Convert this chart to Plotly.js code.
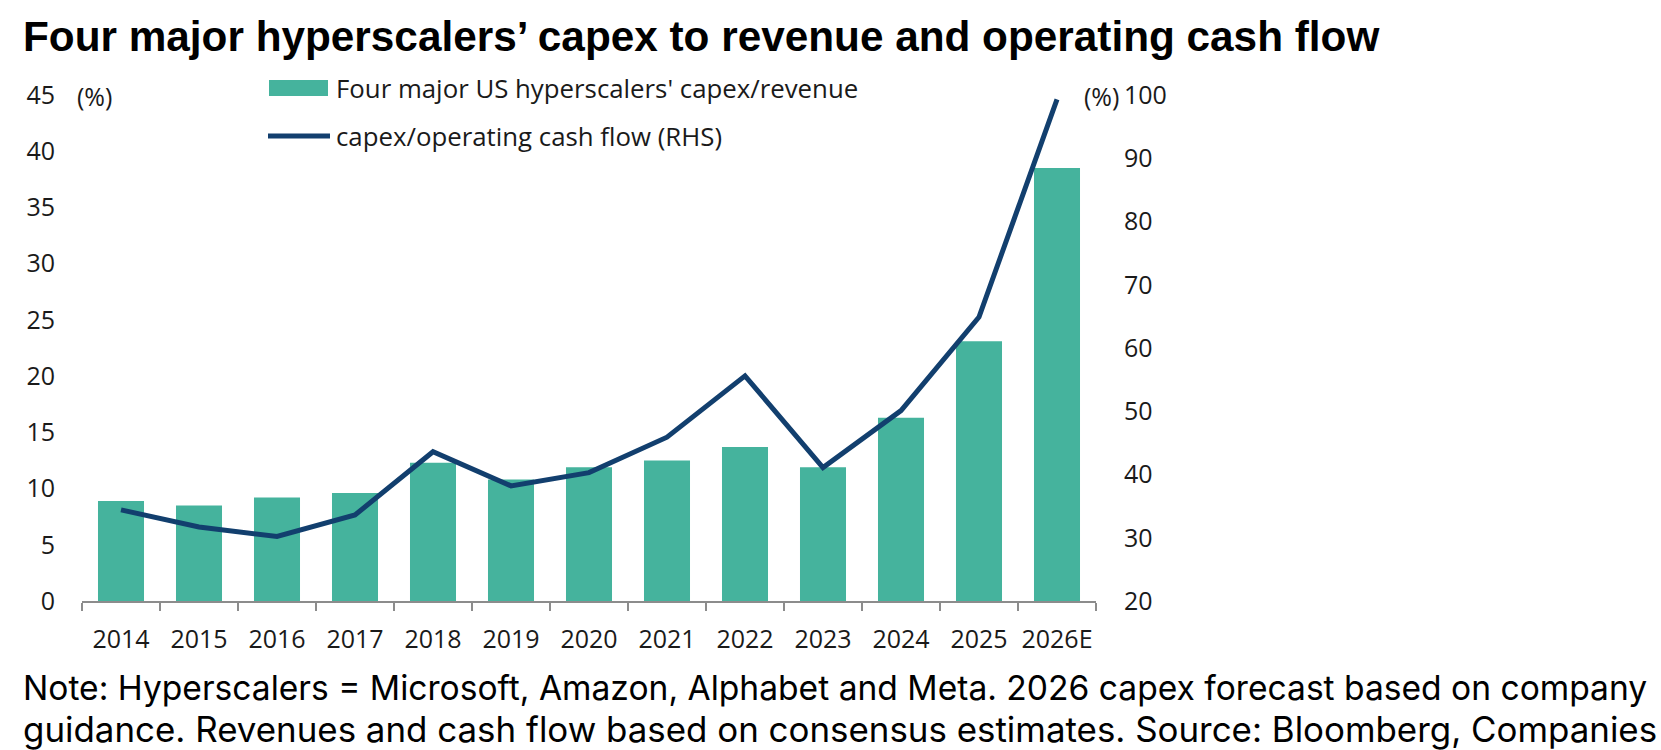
<!DOCTYPE html>
<html>
<head>
<meta charset="utf-8">
<script src="https://cdn.plot.ly/plotly-3.0.1.min.js"></script>
<style>
html,body{margin:0;padding:0;background:#fff;}
#chart{width:1661px;height:750px;}
</style>
</head>
<body>
<div id="chart"></div>
<script>
// ---- data ----
var years = ["2014","2015","2016","2017","2018","2019","2020","2021","2022","2023","2024","2025","2026E"];
var capexToRevenue = [8.9, 8.5, 9.2, 9.6, 12.3, 10.8, 11.9, 12.5, 13.7, 11.9, 16.3, 23.1, 38.5];
var capexToOCF = [34.4, 31.7, 30.2, 33.6, 43.6, 38.2, 40.3, 45.9, 55.6, 41.1, 50.1, 64.9, 99.3];
var leftTicks = [0, 5, 10, 15, 20, 25, 30, 35, 40, 45];
var rightTicks = [20, 30, 40, 50, 60, 70, 80, 90, 100];
var barName = "Four major US hyperscalers' capex/revenue";
var lineName = "capex/operating cash flow (RHS)";
var titleText = "Four major hyperscalers’ capex to revenue and operating cash flow";
var noteLine1 = "Note: Hyperscalers = Microsoft, Amazon, Alphabet and Meta. 2026 capex forecast based on company";
var noteLine2 = "guidance. Revenues and cash flow based on consensus estimates. Source: Bloomberg, Companies";

// ---- styling ----
var W = 1661, H = 750;
var L = 82, R = 1096, T = 95, B = 601;
var barColor = "#45b39d";
var lineColor = "#123f6e";
var tickFont = {family: "Open Sans, Liberation Sans, sans-serif", size: 25, color: "#1a1a1a"};
var legendFont = {family: "Open Sans, Liberation Sans, sans-serif", size: 25.8, color: "#1a1a1a"};
var noteFont1 = {family: "Inter, Liberation Sans, sans-serif", size: 33.6, color: "#000"};
var noteFont2 = {family: "Inter, Liberation Sans, sans-serif", size: 34.9, color: "#000"};
function px(x){ return (x - L) / (R - L); }
function py(y){ return (B - y) / (B - T); }

var traces = [
  {type: "bar", x: years, y: capexToRevenue, name: barName, marker: {color: barColor}, yaxis: "y", hoverinfo: "x+y"},
  {type: "scatter", mode: "lines", x: years, y: capexToOCF, name: lineName, yaxis: "y2",
   line: {color: lineColor, width: 5}, cliponaxis: false}
];

var layout = {
  width: W, height: H,
  margin: {l: L, r: W - R, t: T, b: H - B, pad: 0},
  paper_bgcolor: "#fff", plot_bgcolor: "#fff",
  showlegend: false,
  bargap: 0.41,
  xaxis: {
    type: "category", range: [-0.5, years.length - 0.5],
    showline: true, linecolor: "#8c8c8c", linewidth: 2,
    ticks: "outside", tickson: "boundaries", ticklen: 8, tickwidth: 2, tickcolor: "#8c8c8c",
    tickfont: tickFont, tickangle: 0, ticklabelstandoff: 15, showgrid: false, zeroline: false
  },
  yaxis: {
    range: [0, 45], tickvals: leftTicks, ticktext: leftTicks.map(String),
    showgrid: false, zeroline: false, showline: false, ticks: "",
    tickfont: tickFont, ticklabelstandoff: 26
  },
  yaxis2: {
    overlaying: "y", side: "right", range: [20, 100], tickvals: rightTicks, ticktext: rightTicks.map(String),
    showgrid: false, zeroline: false, showline: false, ticks: "",
    tickfont: tickFont, ticklabelstandoff: 27
  },
  shapes: [
    {type: "rect", xref: "paper", yref: "paper", x0: px(269), x1: px(328), y0: py(96), y1: py(80),
     fillcolor: barColor, line: {width: 0}},
    {type: "line", xref: "paper", yref: "paper", x0: px(268), x1: px(330), y0: py(136), y1: py(136),
     line: {color: lineColor, width: 5}}
  ],
  annotations: [
    {text: "<b>" + titleText + "</b>", xref: "paper", yref: "paper", x: px(21), y: py(36),
     xanchor: "left", yanchor: "middle", showarrow: false,
     font: {family: "Liberation Sans, Arial, sans-serif", size: 42.3, color: "#000"}},
    {text: "(%)", xref: "paper", yref: "paper", x: px(75), y: py(96), xanchor: "left", yanchor: "middle",
     showarrow: false, font: tickFont},
    {text: "(%)", xref: "paper", yref: "paper", x: px(1082), y: py(96), xanchor: "left", yanchor: "middle",
     showarrow: false, font: tickFont},
    {text: barName, xref: "paper", yref: "paper", x: px(334), y: py(88), xanchor: "left", yanchor: "middle",
     showarrow: false, font: legendFont},
    {text: lineName, xref: "paper", yref: "paper", x: px(334), y: py(136), xanchor: "left", yanchor: "middle",
     showarrow: false, font: legendFont},
    {text: noteLine1, xref: "paper", yref: "paper", x: px(21), y: py(687), xanchor: "left", yanchor: "middle",
     showarrow: false, font: noteFont1},
    {text: noteLine2, xref: "paper", yref: "paper", x: px(21), y: py(729), xanchor: "left", yanchor: "middle",
     showarrow: false, font: noteFont2}
  ]
};

Plotly.newPlot("chart", traces, layout, {staticPlot: true, displayModeBar: false});
</script>
</body>
</html>
